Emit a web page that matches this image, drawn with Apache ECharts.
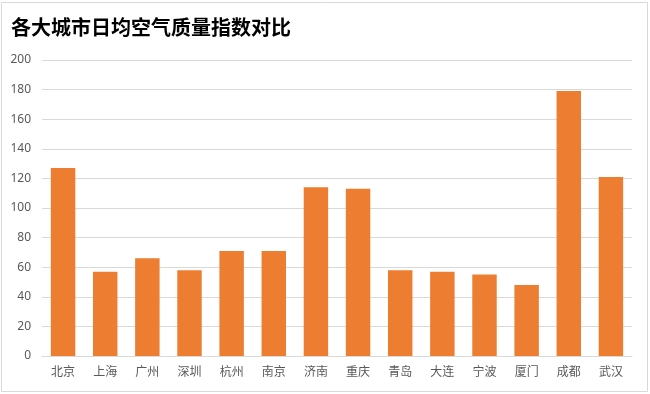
<!DOCTYPE html>
<html><head><meta charset="utf-8">
<script src="https://cdn.jsdelivr.net/npm/echarts@6/dist/echarts.min.js"></script>
<style>html,body{margin:0;padding:0;background:#fff}#c{width:650px;height:394px}</style>
</head><body><div id="c"></div>
<script>
const categories = ['北京','上海','广州','深圳','杭州','南京','济南','重庆','青岛','大连','宁波','厦门','成都','武汉'];
const values = [127,57,66,58,71,71,114,113,58,57,55,48,179,121];
const yTicks = {min:0, max:200, interval:20};
const chart = echarts.init(document.getElementById('c'));
chart.setOption({
  animation:false,
  backgroundColor:'#fff',
  graphic:[{type:'rect',shape:{x:1.5,y:2.5,width:646,height:389},style:{fill:'none',stroke:'#d9d9d9',lineWidth:1},silent:true}],
  title:{text:'各大城市日均空气质量指数对比',left:6,top:12,textStyle:{fontFamily:'Noto Sans CJK SC',fontSize:20,fontWeight:'bold',color:'#000'}},
  grid:{left:42,right:18,top:60,bottom:38,containLabel:false},
  xAxis:{type:'category',data:categories,
    axisLine:{lineStyle:{color:'#d9d9d9'}},axisTick:{show:false},
    axisLabel:{color:'#595959',fontSize:12,fontFamily:'Noto Sans CJK SC',margin:9}},
  yAxis:{type:'value',min:yTicks.min,max:yTicks.max,interval:yTicks.interval,
    axisLine:{show:false},axisTick:{show:false},
    splitLine:{lineStyle:{color:'#d9d9d9'}},
    axisLabel:{color:'#595959',fontSize:12,fontFamily:'Noto Sans',margin:11}},
  series:[{type:'bar',data:values,barCategoryGap:'42%',itemStyle:{color:'#ED7D31'}}]
});
</script></body></html>
